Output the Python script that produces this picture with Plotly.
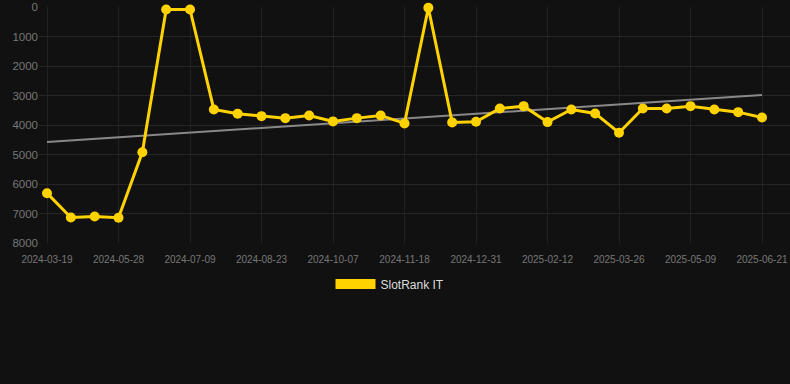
import numpy as np
import plotly.graph_objects as go

dates = [
    "2024-03-19", "2024-04-11", "2024-05-04", "2024-05-28", "2024-06-11", "2024-06-25",
    "2024-07-09", "2024-07-24", "2024-08-08", "2024-08-23", "2024-09-07", "2024-09-22",
    "2024-10-07", "2024-10-21", "2024-11-04", "2024-11-18", "2024-12-02", "2024-12-16",
    "2024-12-31", "2025-01-14", "2025-01-28", "2025-02-12", "2025-02-26", "2025-03-12",
    "2025-03-26", "2025-04-09", "2025-04-23", "2025-05-09", "2025-05-23", "2025-06-06",
    "2025-06-21",
]
ranks = [
    6311, 7135, 7101, 7145, 4926, 84, 84, 3473, 3621, 3700, 3767, 3676,
    3878, 3767, 3676, 3946, 27, 3912, 3892, 3439, 3361, 3902, 3473, 3608,
    4263, 3439, 3439, 3361, 3473, 3564, 3743,
]
tick_dates = dates[::3]
y_ticks = [0, 1000, 2000, 3000, 4000, 5000, 6000, 7000, 8000]
series_name = "SlotRank IT"

idx = np.arange(len(ranks))
slope, intercept = np.polyfit(idx, ranks, 1)
trend = slope * idx + intercept

YELLOW = "#FFD200"

fig = go.Figure()
fig.add_trace(go.Scatter(
    x=dates, y=trend, mode="lines",
    line=dict(color="rgba(150,150,150,0.9)", width=2),
    showlegend=False, hoverinfo="skip",
))
fig.add_trace(go.Scatter(
    x=dates, y=ranks, mode="lines+markers",
    line=dict(color=YELLOW, width=3),
    marker=dict(color=YELLOW, size=10),
    showlegend=False, cliponaxis=False,
))
# legend entry drawn as a thick bar
fig.add_trace(go.Scatter(
    x=[None], y=[None], mode="lines",
    line=dict(color=YELLOW, width=12),
    name=series_name, showlegend=True,
))

fig.update_layout(
    width=790, height=384,
    margin=dict(l=39, r=0, t=6.5, b=140.7),
    paper_bgcolor="#111111", plot_bgcolor="#111111",
    font=dict(family="Liberation Sans, Arial, sans-serif", color="#777777"),
    legend=dict(
        x=0.5 - 5 / 790, xanchor="center", xref="container",
        y=1 - 284 / 384, yanchor="middle", yref="container",
        orientation="h", itemwidth=40,
        font=dict(size=12, color="#dddddd"),
        bgcolor="rgba(0,0,0,0)",
    ),
    xaxis=dict(
        type="category", range=[-0.336, 31.175],
        tickvals=tick_dates, ticktext=tick_dates,
        tickfont=dict(size=10, color="#777777"),
        ticklabelstandoff=9,
        showgrid=True, gridcolor="#222222", gridwidth=1,
        zeroline=False, showline=False, ticks="",
    ),
    yaxis=dict(
        range=[8000, 0], tickvals=y_ticks,
        tickfont=dict(size=11.5, color="#777777"),
        showgrid=True, gridcolor="#262626", gridwidth=1,
        zeroline=False, showline=False, ticks="",
    ),
)

fig.write_html("out.html")
